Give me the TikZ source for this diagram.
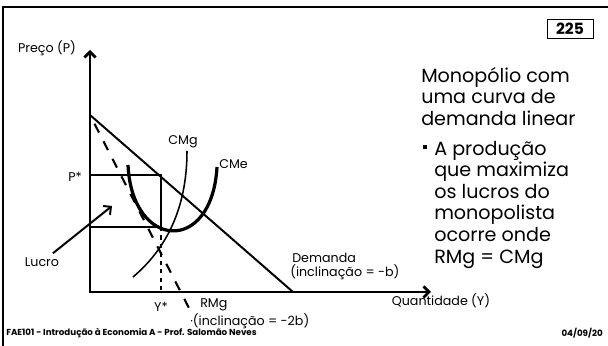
\documentclass[tikz,border=0pt]{standalone}
\usepackage{fontspec}
\setmainfont{Poppins}
\usetikzlibrary{positioning, calc, arrows.meta}

\begin{document}
\begin{tikzpicture}[x=0.025cm, y=-0.025cm, >={Straight Barb[length=4pt,width=8pt]},
    lbl/.style={font=\fontsize{9}{11}\selectfont, inner sep=0pt},
    titulo/.style={font=\fontsize{13.6}{15.3}\selectfont, inner sep=0pt, align=left, anchor=north west},
    rodape/.style={font=\fontsize{6.2}{7}\selectfont\bfseries, inner sep=0pt}]
    % Bounding box
    \useasboundingbox (0,0) rectangle (608,346);

    % Slide frame
    \draw[line width=2.1pt] (3,346) -- (3,7) -- (608,7);

    % Points
    \coordinate (O) at (90,292);
    \coordinate (ytop) at (90,50);
    \coordinate (xend) at (431,292);
    \coordinate (dtop) at (90,115);
    \coordinate (dbot) at (293,292);
    \coordinate (rbot) at (191,312);
    \coordinate (pcorner) at (161,175);
    \coordinate (ccorner) at (161,227);
    \coordinate (ystar) at (161,292);
    \coordinate (lucrotip) at (112,206);

    % Axes
    \draw[<->, line width=1.9pt] (ytop) -- (O) -- (xend);
    \node[lbl] (preco) at (47,48) {Preço (P)};
    \node[lbl] (quant) at (441,301) {Quantidade (Y)};

    % Demand and marginal revenue
    \draw[line width=1.4pt] (dtop) -- (dbot);
    \draw[line width=1.5pt, dash pattern=on 7pt off 7pt, dash phase=7pt] (dtop) -- (rbot);

    % Profit rectangle
    \draw[line width=1.4pt] (90,175) -- (pcorner) -- (ccorner) -- (90,227);
    \draw[line width=0.85pt, dashed] (ccorner) -- (ystar);

    % Cost curves
    \draw[line width=2.3pt] (128,165) .. controls (132,250) and (212,255) .. (217,167);
    \draw[line width=1.1pt] (133,277) .. controls (165,250) and (187,210) .. (187,151);

    % Curve labels
    \node[lbl] (cmg) at (183,142) {CMg};
    \node[lbl, anchor=west] (cme) at (219,164) {CMe};
    \node[lbl] (pstar) at (75,177) {P*};
    \node[lbl] (ystarlbl) at (161,307) {Y*};
    \node[lbl, anchor=west] (rmg) at (200,305) {RMg};
    \node[lbl, anchor=west] (rmgslope) at (190,321) {·(inclinação = -2b)};
    \node[lbl, anchor=west] (demanda) at (292,258) {Demanda};
    \node[lbl, anchor=west] (demslope) at (290,272) {(inclinação = -b)};

    % Profit
    \node[lbl, outer sep=3pt] (lucro) at (42,262) {Lucro};
    \draw[->, line width=1.4pt] (lucro) -- (lucrotip);

    % Text on the right
    \node[draw, line width=0.7pt, minimum width=32.7pt, minimum height=14.2pt, inner sep=0pt,
        font=\fontsize{11}{12}\selectfont\bfseries] (pagina) at (570,29) {225};
    \node[titulo] (titulo) at (421,67) {Monopólio com\\uma curva de\\demanda linear};
    \node[inner sep=0pt] (marcador) at (425,147) {\rule{3.5pt}{3.5pt}};
    \node[titulo] (texto) at (434,141) {A produção\\que maximiza\\os lucros do\\monopolista\\ocorre onde\\RMg = CMg};

    % Footer
    \node[rodape, anchor=west] (curso) at (6,333) {FAE101 - Introdução à Economia A - Prof. Salomão Neves};
    \node[rodape, anchor=east] (data) at (603,333) {04/09/20};
\end{tikzpicture}
\end{document}
